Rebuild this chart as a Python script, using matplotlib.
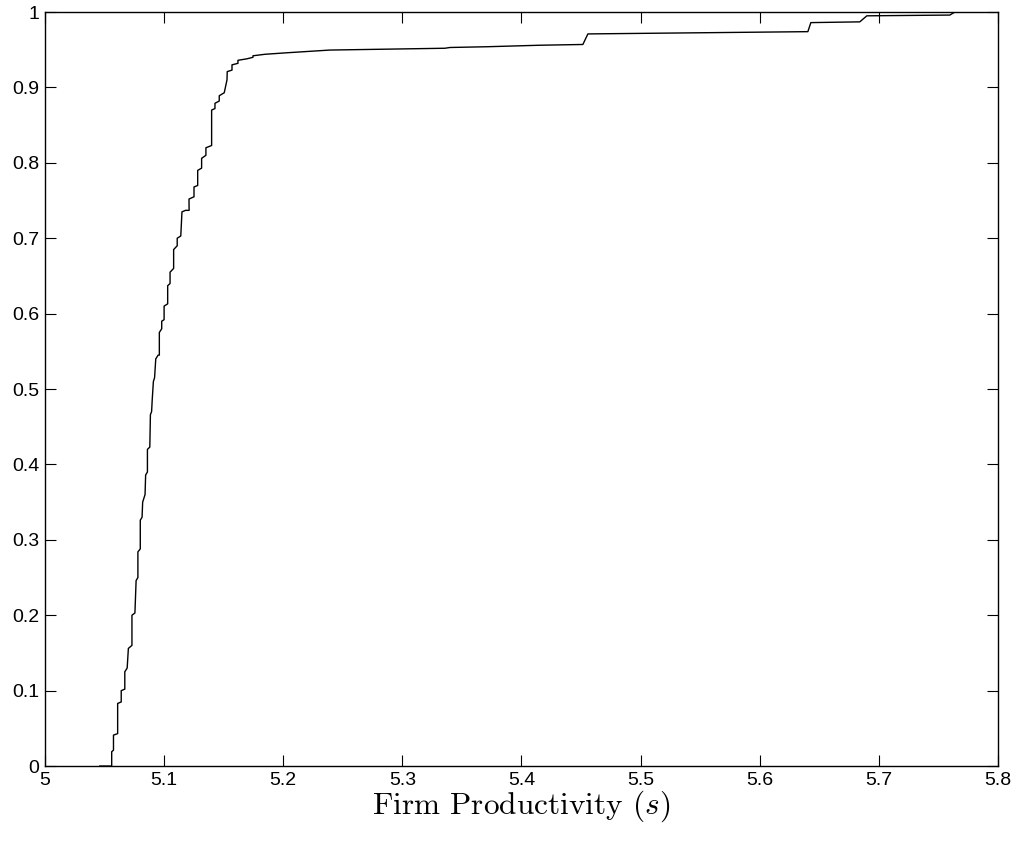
import numpy as np
import matplotlib
matplotlib.use('Agg')
import matplotlib.pyplot as plt

productivity = [
    5.046, 5.056, 5.056, 5.0575, 5.0575, 5.061, 5.061, 5.064, 5.064, 5.067,
    5.067, 5.069, 5.070, 5.073, 5.073, 5.0755, 5.0765, 5.078, 5.078, 5.080,
    5.080, 5.0815, 5.082, 5.084, 5.0845, 5.086, 5.086, 5.088, 5.0885, 5.0895,
    5.090, 5.091, 5.092, 5.093, 5.095, 5.096, 5.096, 5.098, 5.098, 5.100,
    5.100, 5.103, 5.103, 5.105, 5.105, 5.108, 5.108, 5.111, 5.111, 5.114,
    5.115, 5.118, 5.121,
    5.1209, 5.1251, 5.1251, 5.1282, 5.1282, 5.1315, 5.1315, 5.1351, 5.1351, 5.1399,
    5.1399, 5.1427, 5.1427, 5.1463, 5.1463, 5.1505, 5.1528, 5.153, 5.157, 5.157,
    5.162, 5.162, 5.1696, 5.1746, 5.1746, 5.1847, 5.2031, 5.2392, 5.3358, 5.340,
    5.371, 5.4155, 5.4516, 5.4558, 5.6405, 5.643, 5.6841, 5.690, 5.7597, 5.7639,
]
cdf = [
    0.0, 0.0, 0.019, 0.021, 0.041, 0.043, 0.083, 0.085, 0.100, 0.102,
    0.125, 0.130, 0.156, 0.160, 0.200, 0.203, 0.246, 0.250, 0.284, 0.288,
    0.326, 0.330, 0.350, 0.360, 0.386, 0.390, 0.420, 0.423, 0.466, 0.470,
    0.485, 0.510, 0.515, 0.540, 0.545, 0.545, 0.575, 0.580, 0.590, 0.592,
    0.610, 0.613, 0.637, 0.640, 0.655, 0.660, 0.685, 0.690, 0.700, 0.703,
    0.735, 0.737, 0.737,
    0.752, 0.755, 0.768, 0.770, 0.790, 0.793, 0.806, 0.810, 0.820, 0.823,
    0.870, 0.872, 0.879, 0.882, 0.889, 0.893, 0.910, 0.921, 0.923, 0.930,
    0.932, 0.936, 0.938, 0.940, 0.942, 0.944, 0.946, 0.9496, 0.952, 0.953,
    0.954, 0.956, 0.957, 0.971, 0.974, 0.986, 0.987, 0.995, 0.996, 1.0,
]

plt.rcParams['font.family'] = 'Liberation Sans'
plt.rcParams['mathtext.fontset'] = 'cm'

fig = plt.figure(figsize=(10.18, 8.43), dpi=100)
ax = fig.add_axes([0.0442, 0.0913, 0.936, 0.8944])
ax.plot(productivity, cdf, color='black', lw=1.0)

ax.set_xlim(5, 5.8)
ax.set_ylim(0, 1)
ax.set_xticks(np.arange(5, 5.81, 0.1))
ax.set_xticklabels(['5', '5.1', '5.2', '5.3', '5.4', '5.5', '5.6', '5.7', '5.8'])
ax.set_yticks(np.arange(0, 1.01, 0.1))
ax.set_yticklabels(['0', '0.1', '0.2', '0.3', '0.4', '0.5', '0.6', '0.7', '0.8', '0.9', '1'])
ax.tick_params(direction='in', top=True, right=True, length=8, width=0.8,
               labelsize=14, pad=4)
for s in ax.spines.values():
    s.set_linewidth(1.0)

ax.set_xlabel(r'Firm Productivity $(s)$', fontfamily='cmr10', fontsize=22.5, labelpad=0)

fig.savefig('out.png', dpi=100)
